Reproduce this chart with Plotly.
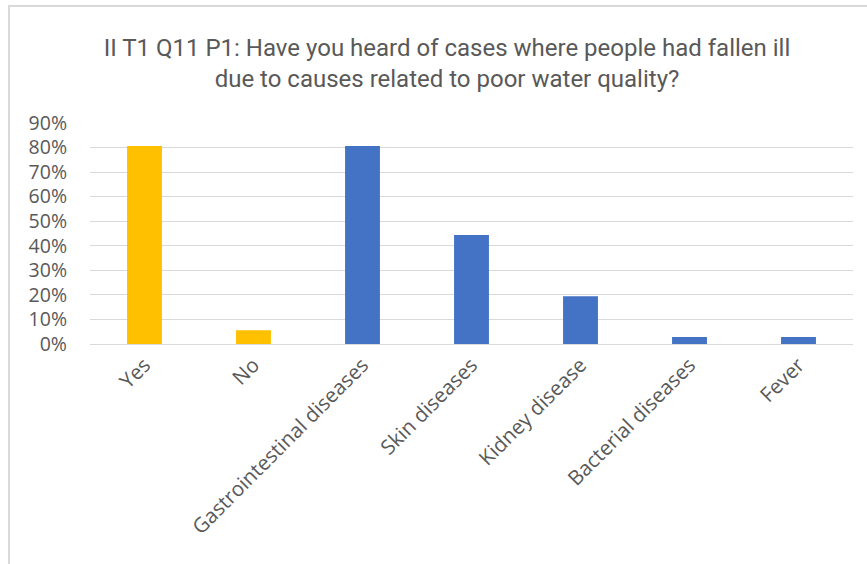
import plotly.graph_objects as go

# Survey responses (share of respondents)
categories = ["Yes", "No", "Gastrointestinal diseases", "Skin diseases",
              "Kidney disease", "Bacterial diseases", "Fever"]
shares = [0.806, 0.056, 0.806, 0.444, 0.194, 0.028, 0.028]
bar_colors = ["#FFC000", "#FFC000", "#4472C4", "#4472C4",
              "#4472C4", "#4472C4", "#4472C4"]
y_ticks = [0, 0.1, 0.2, 0.3, 0.4, 0.5, 0.6, 0.7, 0.8, 0.9]
y_tick_labels = ["0%", "10%", "20%", "30%", "40%", "50%", "60%", "70%", "80%", "90%"]

W, H = 867, 564
L, R, T, B = 90, 14, 123, 220
plot_w = W - L - R
plot_h = H - T - B


def px_x(px):
    return (px - L) / plot_w


def px_y(py):
    return (H - B - py) / plot_h


fig = go.Figure(
    go.Bar(
        x=categories,
        y=shares,
        marker=dict(color=bar_colors, line=dict(width=0)),
        width=0.32,
        hoverinfo="x+y",
    )
)

fig.update_layout(
    width=W,
    height=H,
    margin=dict(l=L, r=R, t=T, b=B),
    paper_bgcolor="white",
    plot_bgcolor="white",
    showlegend=False,
    title=dict(
        text="II T1 Q11 P1: Have you heard of cases where people had fallen ill<br>"
             "due to causes related to poor water quality?",
        x=447 / W,
        xanchor="center",
        y=1 - 56 / H,
        yanchor="middle",
        font=dict(family="Roboto", size=24, color="#595959"),
    ),
    xaxis=dict(
        tickangle=-45,
        tickfont=dict(family="Open Sans", size=20.5, color="#595959"),
        showgrid=False,
        showline=True,
        linecolor="#D9D9D9",
        linewidth=1,
        ticks="",
    ),
    yaxis=dict(
        range=[0, 0.9],
        tickvals=y_ticks,
        ticktext=y_tick_labels,
        tickfont=dict(family="Open Sans", size=19.5, color="#595959"),
        showgrid=True,
        gridcolor="#D9D9D9",
        gridwidth=1,
        zeroline=False,
        showline=False,
        ticks="",
        ticklabelstandoff=22,
    ),
    shapes=[
        dict(
            type="path",
            xref="paper",
            yref="paper",
            path=f"M {px_x(9)} {px_y(H + 5)} L {px_x(9)} {px_y(6)} L {px_x(W + 5)} {px_y(6)}",
            line=dict(color="#D9D9D9", width=2),
        )
    ],
)

fig.write_html("out.html")
